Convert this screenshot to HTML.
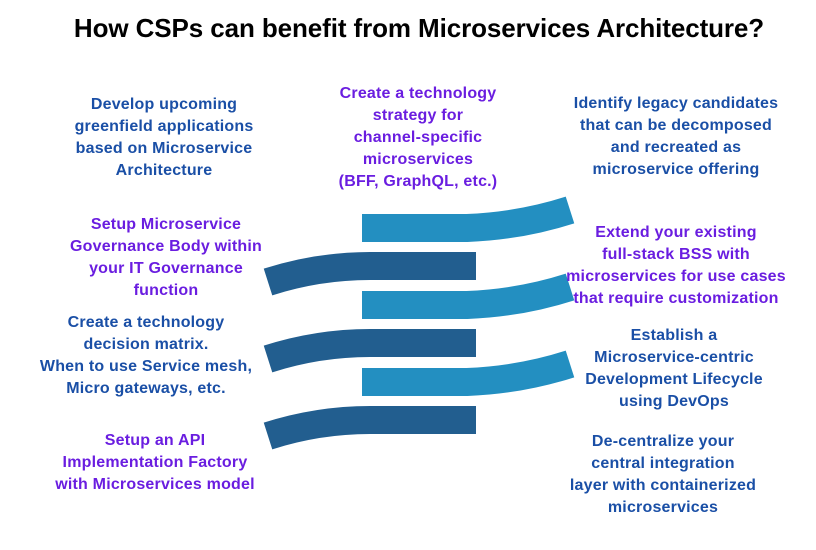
<!DOCTYPE html>
<html><head><meta charset="utf-8"><style>
body{margin:0;width:816px;height:550px;background:#fff;position:relative;overflow:hidden;font-family:"Liberation Sans",sans-serif}
h1{position:absolute;left:0;width:838px;top:13px;margin:0;text-align:center;font-size:26px;font-weight:bold;color:#000;letter-spacing:-0.1px}
.t{position:absolute;text-align:center;font-size:16px;font-weight:bold;line-height:22px;white-space:nowrap;transform:translateX(-50%);letter-spacing:0.2px}
.b{color:#1a4fa6}.p{color:#6a1de0}
svg{position:absolute;left:0;top:0}
</style></head><body>
<h1>How CSPs can benefit from Microservices Architecture?</h1>
<svg width="816" height="550">
<g fill="none" stroke-width="28" stroke-linecap="butt">
<path d="M362 228 L467 228 Q520 226 570 210" stroke="#238fc1"/>
<path d="M362 305 L467 305 Q520 303 570 287" stroke="#238fc1"/>
<path d="M362 382 L467 382 Q520 380 570 364" stroke="#238fc1"/>
<path d="M268 282 Q318 266 370 266 L476 266" stroke="#225e8f"/>
<path d="M268 359 Q318 343 370 343 L476 343" stroke="#225e8f"/>
<path d="M268 436 Q318 420 370 420 L476 420" stroke="#225e8f"/>
</g></svg>
<div class="t b" style="left:164px;top:94px">Develop upcoming<br>greenfield applications<br>based on Microservice<br>Architecture</div>
<div class="t p" style="left:418px;top:83px">Create a technology<br>strategy for<br>channel-specific<br>microservices<br>(BFF, GraphQL, etc.)</div>
<div class="t b" style="left:676px;top:93px">Identify legacy candidates<br>that can be decomposed<br>and recreated as<br>microservice offering</div>
<div class="t p" style="left:166px;top:214px">Setup Microservice<br>Governance Body within<br>your IT Governance<br>function</div>
<div class="t p" style="left:676px;top:222px">Extend your existing<br>full-stack BSS with<br>microservices for use cases<br>that require customization</div>
<div class="t b" style="left:146px;top:312px">Create a technology<br>decision matrix.<br>When to use Service mesh,<br>Micro gateways, etc.</div>
<div class="t b" style="left:674px;top:325px">Establish a<br>Microservice-centric<br>Development Lifecycle<br>using DevOps</div>
<div class="t p" style="left:155px;top:430px">Setup an API<br>Implementation Factory<br>with Microservices model</div>
<div class="t b" style="left:663px;top:431px">De-centralize your<br>central integration<br>layer with containerized<br>microservices</div>
</body></html>
